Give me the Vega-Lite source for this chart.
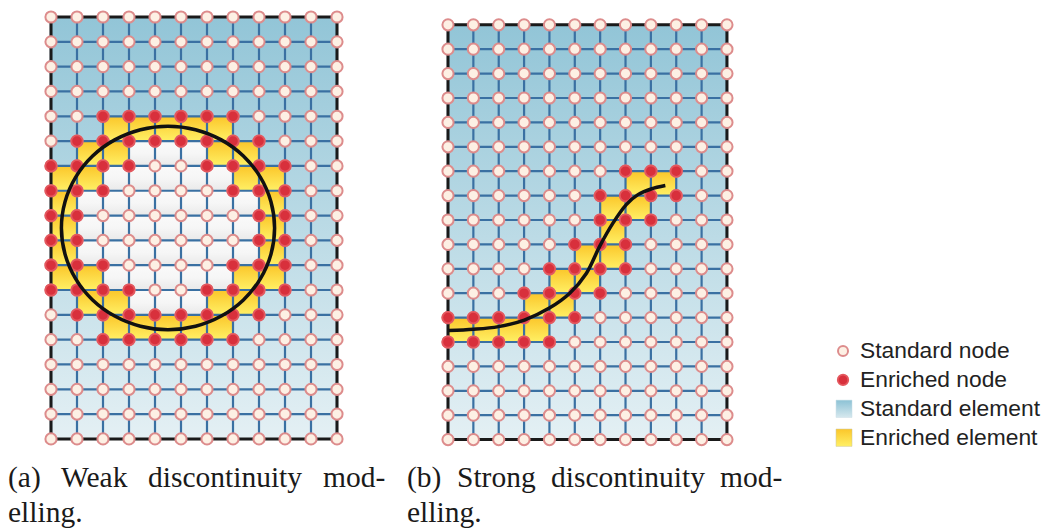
{"$schema":"https://vega.github.io/schema/vega-lite/v6.json","background":"white","padding":0,"spacing":0,"bounds":"flush",
"config":{"view":{"stroke":null}},
"datasets":{
"frame":[{"c":0,"c2":11,"r":0,"r2":17}],
"grid":[{"c":0,"c2":0,"r":0,"r2":17},{"c":1,"c2":1,"r":0,"r2":17},{"c":2,"c2":2,"r":0,"r2":17},{"c":3,"c2":3,"r":0,"r2":17},{"c":4,"c2":4,"r":0,"r2":17},{"c":5,"c2":5,"r":0,"r2":17},{"c":6,"c2":6,"r":0,"r2":17},{"c":7,"c2":7,"r":0,"r2":17},{"c":8,"c2":8,"r":0,"r2":17},{"c":9,"c2":9,"r":0,"r2":17},{"c":10,"c2":10,"r":0,"r2":17},{"c":11,"c2":11,"r":0,"r2":17},
{"c":0,"c2":11,"r":1,"r2":1},{"c":0,"c2":11,"r":2,"r2":2},{"c":0,"c2":11,"r":3,"r2":3},{"c":0,"c2":11,"r":4,"r2":4},{"c":0,"c2":11,"r":5,"r2":5},{"c":0,"c2":11,"r":6,"r2":6},{"c":0,"c2":11,"r":7,"r2":7},{"c":0,"c2":11,"r":8,"r2":8},{"c":0,"c2":11,"r":9,"r2":9},{"c":0,"c2":11,"r":10,"r2":10},{"c":0,"c2":11,"r":11,"r2":11},{"c":0,"c2":11,"r":12,"r2":12},{"c":0,"c2":11,"r":13,"r2":13},{"c":0,"c2":11,"r":14,"r2":14},{"c":0,"c2":11,"r":15,"r2":15},{"c":0,"c2":11,"r":16,"r2":16}],
"enrichedA":[{"c":2,"c2":3,"r":4,"r2":5},{"c":3,"c2":4,"r":4,"r2":5},{"c":4,"c2":5,"r":4,"r2":5},{"c":5,"c2":6,"r":4,"r2":5},{"c":6,"c2":7,"r":4,"r2":5},{"c":1,"c2":2,"r":5,"r2":6},{"c":2,"c2":3,"r":5,"r2":6},{"c":6,"c2":7,"r":5,"r2":6},{"c":7,"c2":8,"r":5,"r2":6},{"c":0,"c2":1,"r":6,"r2":7},{"c":1,"c2":2,"r":6,"r2":7},{"c":7,"c2":8,"r":6,"r2":7},{"c":8,"c2":9,"r":6,"r2":7},{"c":0,"c2":1,"r":7,"r2":8},{"c":8,"c2":9,"r":7,"r2":8},{"c":0,"c2":1,"r":8,"r2":9},{"c":8,"c2":9,"r":8,"r2":9},{"c":0,"c2":1,"r":9,"r2":10},{"c":8,"c2":9,"r":9,"r2":10},{"c":0,"c2":1,"r":10,"r2":11},{"c":1,"c2":2,"r":10,"r2":11},{"c":7,"c2":8,"r":10,"r2":11},{"c":8,"c2":9,"r":10,"r2":11},{"c":1,"c2":2,"r":11,"r2":12},{"c":2,"c2":3,"r":11,"r2":12},{"c":6,"c2":7,"r":11,"r2":12},{"c":7,"c2":8,"r":11,"r2":12},{"c":2,"c2":3,"r":12,"r2":13},{"c":3,"c2":4,"r":12,"r2":13},{"c":4,"c2":5,"r":12,"r2":13},{"c":5,"c2":6,"r":12,"r2":13},{"c":6,"c2":7,"r":12,"r2":13}],
"interiorA":[{"c":3,"c2":4,"r":5,"r2":6},{"c":4,"c2":5,"r":5,"r2":6},{"c":5,"c2":6,"r":5,"r2":6},{"c":2,"c2":3,"r":6,"r2":7},{"c":3,"c2":4,"r":6,"r2":7},{"c":4,"c2":5,"r":6,"r2":7},{"c":5,"c2":6,"r":6,"r2":7},{"c":6,"c2":7,"r":6,"r2":7},{"c":1,"c2":2,"r":7,"r2":8},{"c":2,"c2":3,"r":7,"r2":8},{"c":3,"c2":4,"r":7,"r2":8},{"c":4,"c2":5,"r":7,"r2":8},{"c":5,"c2":6,"r":7,"r2":8},{"c":6,"c2":7,"r":7,"r2":8},{"c":7,"c2":8,"r":7,"r2":8},{"c":1,"c2":2,"r":8,"r2":9},{"c":2,"c2":3,"r":8,"r2":9},{"c":3,"c2":4,"r":8,"r2":9},{"c":4,"c2":5,"r":8,"r2":9},{"c":5,"c2":6,"r":8,"r2":9},{"c":6,"c2":7,"r":8,"r2":9},{"c":7,"c2":8,"r":8,"r2":9},{"c":1,"c2":2,"r":9,"r2":10},{"c":2,"c2":3,"r":9,"r2":10},{"c":3,"c2":4,"r":9,"r2":10},{"c":4,"c2":5,"r":9,"r2":10},{"c":5,"c2":6,"r":9,"r2":10},{"c":6,"c2":7,"r":9,"r2":10},{"c":7,"c2":8,"r":9,"r2":10},{"c":2,"c2":3,"r":10,"r2":11},{"c":3,"c2":4,"r":10,"r2":11},{"c":4,"c2":5,"r":10,"r2":11},{"c":5,"c2":6,"r":10,"r2":11},{"c":6,"c2":7,"r":10,"r2":11},{"c":3,"c2":4,"r":11,"r2":12},{"c":4,"c2":5,"r":11,"r2":12},{"c":5,"c2":6,"r":11,"r2":12}],
"enrichedB":[{"c":7,"c2":8,"r":6,"r2":7},{"c":8,"c2":9,"r":6,"r2":7},{"c":6,"c2":7,"r":7,"r2":8},{"c":7,"c2":8,"r":7,"r2":8},{"c":6,"c2":7,"r":8,"r2":9},{"c":5,"c2":6,"r":9,"r2":10},{"c":6,"c2":7,"r":9,"r2":10},{"c":4,"c2":5,"r":10,"r2":11},{"c":5,"c2":6,"r":10,"r2":11},{"c":3,"c2":4,"r":11,"r2":12},{"c":4,"c2":5,"r":11,"r2":12},{"c":0,"c2":1,"r":12,"r2":13},{"c":1,"c2":2,"r":12,"r2":13},{"c":2,"c2":3,"r":12,"r2":13},{"c":3,"c2":4,"r":12,"r2":13}],
"nodesEA":[{"c":2,"r":4},{"c":3,"r":4},{"c":4,"r":4},{"c":5,"r":4},{"c":6,"r":4},{"c":7,"r":4},{"c":1,"r":5},{"c":2,"r":5},{"c":3,"r":5},{"c":4,"r":5},{"c":5,"r":5},{"c":6,"r":5},{"c":7,"r":5},{"c":8,"r":5},{"c":0,"r":6},{"c":1,"r":6},{"c":2,"r":6},{"c":3,"r":6},{"c":6,"r":6},{"c":7,"r":6},{"c":8,"r":6},{"c":9,"r":6},{"c":0,"r":7},{"c":1,"r":7},{"c":2,"r":7},{"c":7,"r":7},{"c":8,"r":7},{"c":9,"r":7},{"c":0,"r":8},{"c":1,"r":8},{"c":8,"r":8},{"c":9,"r":8},{"c":0,"r":9},{"c":1,"r":9},{"c":8,"r":9},{"c":9,"r":9},{"c":0,"r":10},{"c":1,"r":10},{"c":2,"r":10},{"c":7,"r":10},{"c":8,"r":10},{"c":9,"r":10},{"c":0,"r":11},{"c":1,"r":11},{"c":2,"r":11},{"c":3,"r":11},{"c":6,"r":11},{"c":7,"r":11},{"c":8,"r":11},{"c":9,"r":11},{"c":1,"r":12},{"c":2,"r":12},{"c":3,"r":12},{"c":4,"r":12},{"c":5,"r":12},{"c":6,"r":12},{"c":7,"r":12},{"c":8,"r":12},{"c":2,"r":13},{"c":3,"r":13},{"c":4,"r":13},{"c":5,"r":13},{"c":6,"r":13},{"c":7,"r":13}],
"nodesEB":[{"c":7,"r":6},{"c":8,"r":6},{"c":9,"r":6},{"c":6,"r":7},{"c":7,"r":7},{"c":8,"r":7},{"c":9,"r":7},{"c":6,"r":8},{"c":7,"r":8},{"c":8,"r":8},{"c":5,"r":9},{"c":6,"r":9},{"c":7,"r":9},{"c":4,"r":10},{"c":5,"r":10},{"c":6,"r":10},{"c":7,"r":10},{"c":3,"r":11},{"c":4,"r":11},{"c":5,"r":11},{"c":6,"r":11},{"c":0,"r":12},{"c":1,"r":12},{"c":2,"r":12},{"c":3,"r":12},{"c":4,"r":12},{"c":5,"r":12},{"c":0,"r":13},{"c":1,"r":13},{"c":2,"r":13},{"c":3,"r":13},{"c":4,"r":13}],
"allNodes":[{"c":0,"r":0},{"c":1,"r":0},{"c":2,"r":0},{"c":3,"r":0},{"c":4,"r":0},{"c":5,"r":0},{"c":6,"r":0},{"c":7,"r":0},{"c":8,"r":0},{"c":9,"r":0},{"c":10,"r":0},{"c":11,"r":0},{"c":0,"r":1},{"c":1,"r":1},{"c":2,"r":1},{"c":3,"r":1},{"c":4,"r":1},{"c":5,"r":1},{"c":6,"r":1},{"c":7,"r":1},{"c":8,"r":1},{"c":9,"r":1},{"c":10,"r":1},{"c":11,"r":1},{"c":0,"r":2},{"c":1,"r":2},{"c":2,"r":2},{"c":3,"r":2},{"c":4,"r":2},{"c":5,"r":2},{"c":6,"r":2},{"c":7,"r":2},{"c":8,"r":2},{"c":9,"r":2},{"c":10,"r":2},{"c":11,"r":2},{"c":0,"r":3},{"c":1,"r":3},{"c":2,"r":3},{"c":3,"r":3},{"c":4,"r":3},{"c":5,"r":3},{"c":6,"r":3},{"c":7,"r":3},{"c":8,"r":3},{"c":9,"r":3},{"c":10,"r":3},{"c":11,"r":3},{"c":0,"r":4},{"c":1,"r":4},{"c":2,"r":4},{"c":3,"r":4},{"c":4,"r":4},{"c":5,"r":4},{"c":6,"r":4},{"c":7,"r":4},{"c":8,"r":4},{"c":9,"r":4},{"c":10,"r":4},{"c":11,"r":4},{"c":0,"r":5},{"c":1,"r":5},{"c":2,"r":5},{"c":3,"r":5},{"c":4,"r":5},{"c":5,"r":5},{"c":6,"r":5},{"c":7,"r":5},{"c":8,"r":5},{"c":9,"r":5},{"c":10,"r":5},{"c":11,"r":5},{"c":0,"r":6},{"c":1,"r":6},{"c":2,"r":6},{"c":3,"r":6},{"c":4,"r":6},{"c":5,"r":6},{"c":6,"r":6},{"c":7,"r":6},{"c":8,"r":6},{"c":9,"r":6},{"c":10,"r":6},{"c":11,"r":6},{"c":0,"r":7},{"c":1,"r":7},{"c":2,"r":7},{"c":3,"r":7},{"c":4,"r":7},{"c":5,"r":7},{"c":6,"r":7},{"c":7,"r":7},{"c":8,"r":7},{"c":9,"r":7},{"c":10,"r":7},{"c":11,"r":7},{"c":0,"r":8},{"c":1,"r":8},{"c":2,"r":8},{"c":3,"r":8},{"c":4,"r":8},{"c":5,"r":8},{"c":6,"r":8},{"c":7,"r":8},{"c":8,"r":8},{"c":9,"r":8},{"c":10,"r":8},{"c":11,"r":8},{"c":0,"r":9},{"c":1,"r":9},{"c":2,"r":9},{"c":3,"r":9},{"c":4,"r":9},{"c":5,"r":9},{"c":6,"r":9},{"c":7,"r":9},{"c":8,"r":9},{"c":9,"r":9},{"c":10,"r":9},{"c":11,"r":9},{"c":0,"r":10},{"c":1,"r":10},{"c":2,"r":10},{"c":3,"r":10},{"c":4,"r":10},{"c":5,"r":10},{"c":6,"r":10},{"c":7,"r":10},{"c":8,"r":10},{"c":9,"r":10},{"c":10,"r":10},{"c":11,"r":10},{"c":0,"r":11},{"c":1,"r":11},{"c":2,"r":11},{"c":3,"r":11},{"c":4,"r":11},{"c":5,"r":11},{"c":6,"r":11},{"c":7,"r":11},{"c":8,"r":11},{"c":9,"r":11},{"c":10,"r":11},{"c":11,"r":11},{"c":0,"r":12},{"c":1,"r":12},{"c":2,"r":12},{"c":3,"r":12},{"c":4,"r":12},{"c":5,"r":12},{"c":6,"r":12},{"c":7,"r":12},{"c":8,"r":12},{"c":9,"r":12},{"c":10,"r":12},{"c":11,"r":12},{"c":0,"r":13},{"c":1,"r":13},{"c":2,"r":13},{"c":3,"r":13},{"c":4,"r":13},{"c":5,"r":13},{"c":6,"r":13},{"c":7,"r":13},{"c":8,"r":13},{"c":9,"r":13},{"c":10,"r":13},{"c":11,"r":13},{"c":0,"r":14},{"c":1,"r":14},{"c":2,"r":14},{"c":3,"r":14},{"c":4,"r":14},{"c":5,"r":14},{"c":6,"r":14},{"c":7,"r":14},{"c":8,"r":14},{"c":9,"r":14},{"c":10,"r":14},{"c":11,"r":14},{"c":0,"r":15},{"c":1,"r":15},{"c":2,"r":15},{"c":3,"r":15},{"c":4,"r":15},{"c":5,"r":15},{"c":6,"r":15},{"c":7,"r":15},{"c":8,"r":15},{"c":9,"r":15},{"c":10,"r":15},{"c":11,"r":15},{"c":0,"r":16},{"c":1,"r":16},{"c":2,"r":16},{"c":3,"r":16},{"c":4,"r":16},{"c":5,"r":16},{"c":6,"r":16},{"c":7,"r":16},{"c":8,"r":16},{"c":9,"r":16},{"c":10,"r":16},{"c":11,"r":16},{"c":0,"r":17},{"c":1,"r":17},{"c":2,"r":17},{"c":3,"r":17},{"c":4,"r":17},{"c":5,"r":17},{"c":6,"r":17},{"c":7,"r":17},{"c":8,"r":17},{"c":9,"r":17},{"c":10,"r":17},{"c":11,"r":17}],
"circleA":[{"o":0,"c":8.6,"r":8.5},{"o":1,"c":8.46,"r":9.56},{"o":2,"c":8.05,"r":10.55},{"o":3,"c":7.4,"r":11.4},{"o":4,"c":6.55,"r":12.05},{"o":5,"c":5.56,"r":12.46},{"o":6,"c":4.5,"r":12.6},{"o":7,"c":3.44,"r":12.46},{"o":8,"c":2.45,"r":12.05},{"o":9,"c":1.6,"r":11.4},{"o":10,"c":0.95,"r":10.55},{"o":11,"c":0.54,"r":9.56},{"o":12,"c":0.4,"r":8.5},{"o":13,"c":0.54,"r":7.44},{"o":14,"c":0.95,"r":6.45},{"o":15,"c":1.6,"r":5.6},{"o":16,"c":2.45,"r":4.95},{"o":17,"c":3.44,"r":4.54},{"o":18,"c":4.5,"r":4.4},{"o":19,"c":5.56,"r":4.54},{"o":20,"c":6.55,"r":4.95},{"o":21,"c":7.4,"r":5.6},{"o":22,"c":8.05,"r":6.45},{"o":23,"c":8.46,"r":7.44}],
"curveB":[{"o":0,"c":0.03,"r":12.53},{"o":1,"c":1.01,"r":12.48},{"o":2,"c":1.99,"r":12.37},{"o":3,"c":3.01,"r":12.1},{"o":4,"c":3.98,"r":11.62},{"o":5,"c":4.8,"r":11.0},{"o":6,"c":5.46,"r":10.18},{"o":7,"c":5.98,"r":9.08},{"o":8,"c":6.51,"r":8.12},{"o":9,"c":7.03,"r":7.37},{"o":10,"c":7.49,"r":6.96},{"o":11,"c":8.01,"r":6.73},{"o":12,"c":8.57,"r":6.59}],
"captionA":[{"c":-1.654,"r":18.94,"w":"(a)"},{"c":0.385,"r":18.94,"w":"Weak"},{"c":3.731,"r":18.94,"w":"discontinuity"},{"c":10.46,"r":18.94,"w":"mod-"},{"c":-1.654,"r":20.35,"w":"elling."}],
"captionB":[{"c":-1.617,"r":18.94,"w":"(b)"},{"c":0.355,"r":18.94,"w":"Strong"},{"c":4.06,"r":18.94,"w":"discontinuity"},{"c":10.726,"r":18.94,"w":"mod-"},{"c":-1.617,"r":20.38,"w":"elling."}]
},
"hconcat":[
{"width":395,"height":529,"encoding":{"x":{"field":"c","type":"quantitative","scale":{"domain":[-1.9615,13.2308]},"axis":null},"y":{"field":"r","type":"quantitative","scale":{"domain":[-0.685,20.629],"reverse":true},"axis":null}},"layer":[
{"data":{"name":"frame"},"mark":{"type":"rect","fill":{"gradient":"linear","x1":0,"y1":0,"x2":0,"y2":1,"stops":[{"offset":0,"color":"#92c5d7"},{"offset":1,"color":"#e4f0f4"}]}},"encoding":{"x2":{"field":"c2"},"y2":{"field":"r2"}}},
{"data":{"name":"interiorA"},"mark":{"type":"rect","fill":{"gradient":"linear","x1":0,"y1":0,"x2":0,"y2":1,"stops":[{"offset":0,"color":"#fafafa"},{"offset":0.5,"color":"#f6f6f6"},{"offset":1,"color":"#e9e9e9"}]}},"encoding":{"x2":{"field":"c2"},"y2":{"field":"r2"}}},
{"data":{"name":"enrichedA"},"mark":{"type":"rect","fill":{"gradient":"linear","x1":0,"y1":0,"x2":0,"y2":1,"stops":[{"offset":0,"color":"#fbc62a"},{"offset":1,"color":"#fff065"}]}},"encoding":{"x2":{"field":"c2"},"y2":{"field":"r2"}}},
{"data":{"name":"grid"},"mark":{"type":"rule","stroke":"#3a70a2","strokeWidth":2.2},"encoding":{"x2":{"field":"c2"},"y2":{"field":"r2"}}},
{"data":{"name":"frame"},"mark":{"type":"rect","fillOpacity":0,"stroke":"#1a1a1a","strokeWidth":3},"encoding":{"x2":{"field":"c2"},"y2":{"field":"r2"}}},
{"data":{"name":"allNodes"},"mark":{"type":"point","shape":"circle","filled":true,"size":125,"fill":"#fdf0e4","stroke":"#dd8c8c","strokeWidth":2,"opacity":1}},
{"data":{"name":"nodesEA"},"mark":{"type":"point","shape":"circle","filled":true,"size":130,"fill":"#d8303c","stroke":"#e4585f","strokeWidth":1.8,"opacity":1}},
{"data":{"name":"circleA"},"mark":{"type":"line","interpolate":"catmull-rom-closed","stroke":"#111111","strokeWidth":3.5},"encoding":{"order":{"field":"o","type":"quantitative"}}},
{"data":{"name":"captionA"},"mark":{"type":"text","align":"left","baseline":"alphabetic","font":"Liberation Serif","fontSize":29.5,"fill":"#1a1a1a"},"encoding":{"text":{"field":"w"}}}
]},
{"width":395,"height":529,"encoding":{"x":{"field":"c","type":"quantitative","scale":{"domain":[-2.09,13.486]},"axis":null},"y":{"field":"r","type":"quantitative","scale":{"domain":[-1.016,20.664],"reverse":true},"axis":null}},"layer":[
{"data":{"name":"frame"},"mark":{"type":"rect","fill":{"gradient":"linear","x1":0,"y1":0,"x2":0,"y2":1,"stops":[{"offset":0,"color":"#92c5d7"},{"offset":1,"color":"#e4f0f4"}]}},"encoding":{"x2":{"field":"c2"},"y2":{"field":"r2"}}},
{"data":{"name":"enrichedB"},"mark":{"type":"rect","fill":{"gradient":"linear","x1":0,"y1":0,"x2":0,"y2":1,"stops":[{"offset":0,"color":"#fbc62a"},{"offset":1,"color":"#fff065"}]}},"encoding":{"x2":{"field":"c2"},"y2":{"field":"r2"}}},
{"data":{"name":"grid"},"mark":{"type":"rule","stroke":"#3a70a2","strokeWidth":2.2},"encoding":{"x2":{"field":"c2"},"y2":{"field":"r2"}}},
{"data":{"name":"frame"},"mark":{"type":"rect","fillOpacity":0,"stroke":"#1a1a1a","strokeWidth":3},"encoding":{"x2":{"field":"c2"},"y2":{"field":"r2"}}},
{"data":{"name":"allNodes"},"mark":{"type":"point","shape":"circle","filled":true,"size":125,"fill":"#fdf0e4","stroke":"#dd8c8c","strokeWidth":2,"opacity":1}},
{"data":{"name":"nodesEB"},"mark":{"type":"point","shape":"circle","filled":true,"size":130,"fill":"#d8303c","stroke":"#e4585f","strokeWidth":1.8,"opacity":1}},
{"data":{"name":"curveB"},"mark":{"type":"line","interpolate":"catmull-rom","stroke":"#111111","strokeWidth":3.5},"encoding":{"order":{"field":"o","type":"quantitative"}}},
{"data":{"name":"captionB"},"mark":{"type":"text","align":"left","baseline":"alphabetic","font":"Liberation Serif","fontSize":29.5,"fill":"#1a1a1a"},"encoding":{"text":{"field":"w"}}}
]},
{"width":255,"height":529,"encoding":{"x":{"field":"x","type":"quantitative","scale":{"domain":[-3.118,11.88]},"axis":null},"y":{"field":"y","type":"quantitative","scale":{"domain":[-12.145,6.159],"reverse":true},"axis":null}},"layer":[
{"data":{"values":[{"k":"Standard element","x":-0.41,"x2":0.53,"y":1.7,"y2":2.3}]},"mark":{"type":"rect","stroke":"#c8dde4","strokeWidth":0.5,"fill":{"gradient":"linear","x1":0,"y1":0,"x2":0,"y2":1,"stops":[{"offset":0,"color":"#8cc2d5"},{"offset":1,"color":"#d6e8ee"}]}},"encoding":{"x2":{"field":"x2"},"y2":{"field":"y2"}}},
{"data":{"values":[{"k":"Enriched element","x":-0.41,"x2":0.53,"y":2.7,"y2":3.3}]},"mark":{"type":"rect","stroke":"#c9c29a","strokeWidth":0.5,"fill":{"gradient":"linear","x1":0,"y1":0,"x2":0,"y2":1,"stops":[{"offset":0,"color":"#fbc62a"},{"offset":1,"color":"#fff065"}]}},"encoding":{"x2":{"field":"x2"},"y2":{"field":"y2"}}},
{"data":{"values":[{"x":0,"y":0}]},"mark":{"type":"point","shape":"circle","filled":true,"size":100,"fill":"#fdf0e4","stroke":"#dd8c8c","strokeWidth":2,"opacity":1}},
{"data":{"values":[{"x":0,"y":1}]},"mark":{"type":"point","shape":"circle","filled":true,"size":110,"fill":"#d8303c","stroke":"#e4585f","strokeWidth":1.8,"opacity":1}},
{"data":{"values":[{"x":1,"y":0,"k":"Standard node"},{"x":1,"y":1,"k":"Enriched node"},{"x":1,"y":2,"k":"Standard element"},{"x":1,"y":3,"k":"Enriched element"}]},"mark":{"type":"text","align":"left","baseline":"middle","font":"Liberation Sans","fontSize":22.8,"fill":"#222222"},"encoding":{"text":{"field":"k"}}}
]}
]}
